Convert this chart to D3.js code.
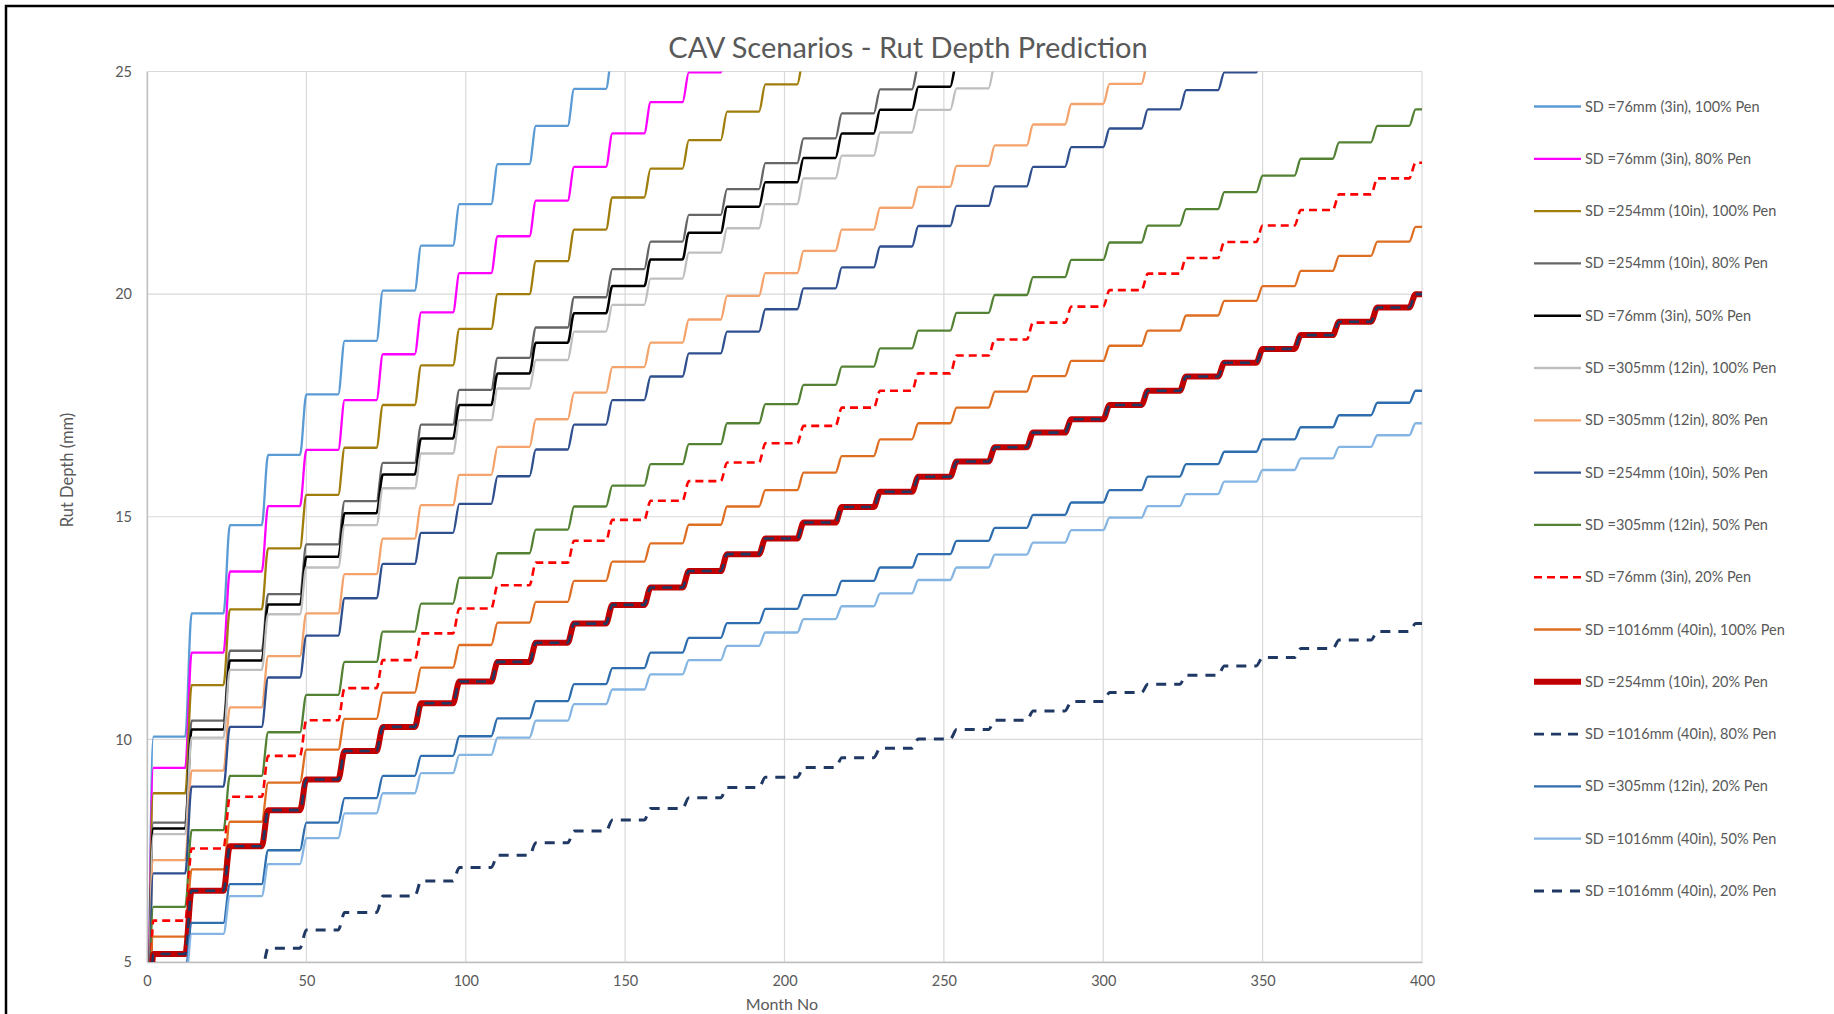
<!DOCTYPE html>
<html>
<head>
<meta charset="utf-8">
<script src="https://cdn.jsdelivr.net/npm/d3@7"></script>
<style>
  body { margin: 0; background: #fff; }
  svg { display: block; font-family: Lato, "Open Sans", sans-serif; }
</style>
</head>
<body>
<div id="chart"></div>
<script>

// yearly rut depth levels (mm), one value per 12-month step
var sd76_pen100   = [10.06, 12.83, 14.81, 16.39, 17.75, 18.95, 20.08, 21.09, 22.02, 22.92, 23.78, 24.61, 25.4]
var sd76_pen80    = [9.36, 11.95, 13.77, 15.24, 16.50, 17.62, 18.65, 19.59, 20.47, 21.30, 22.10, 22.86, 23.61, 24.31, 24.98, 25.6]
var sd254_pen100  = [8.79, 11.22, 12.92, 14.29, 15.49, 16.55, 17.51, 18.40, 19.22, 20.00, 20.74, 21.45, 22.17, 22.82, 23.46, 24.10, 24.71, 25.3]
var sd254_pen80   = [8.13, 10.42, 11.99, 13.26, 14.38, 15.35, 16.21, 17.07, 17.85, 18.57, 19.25, 19.93, 20.56, 21.18, 21.78, 22.36, 22.94, 23.50, 24.06, 24.60, 25.12]
var sd76_pen50    = [8.00, 10.22, 11.77, 13.03, 14.10, 15.08, 15.95, 16.76, 17.51, 18.22, 18.91, 19.57, 20.18, 20.78, 21.38, 21.96, 22.51, 23.06, 23.61, 24.14, 24.66, 25.2]
var sd305_pen100  = [7.87, 10.04, 11.56, 12.81, 13.86, 14.81, 15.64, 16.42, 17.17, 17.88, 18.52, 19.16, 19.76, 20.35, 20.93, 21.48, 22.02, 22.60, 23.11, 23.63, 24.14, 24.62, 25.15]
var sd305_pen80   = [7.29, 9.30, 10.72, 11.87, 12.83, 13.71, 14.51, 15.26, 15.94, 16.57, 17.19, 17.79, 18.36, 18.91, 19.43, 19.96, 20.47, 20.97, 21.45, 21.94, 22.41, 22.88, 23.34, 23.81, 24.27, 24.72, 25.2]
var sd254_pen50   = [6.99, 8.94, 10.28, 11.39, 12.33, 13.17, 13.94, 14.64, 15.29, 15.91, 16.51, 17.07, 17.62, 18.15, 18.67, 19.16, 19.66, 20.13, 20.60, 21.07, 21.53, 21.98, 22.42, 22.86, 23.30, 23.72, 24.15, 24.58, 24.98, 25.4]
var sd305_pen50   = [6.24, 7.96, 9.18, 10.16, 11.00, 11.74, 12.42, 13.05, 13.63, 14.18, 14.71, 15.23, 15.70, 16.18, 16.63, 17.10, 17.53, 17.96, 18.37, 18.78, 19.18, 19.58, 19.98, 20.38, 20.77, 21.16, 21.54, 21.91, 22.29, 22.66, 23.04, 23.41, 23.78, 24.15]
var sd76_pen20    = [5.93, 7.55, 8.71, 9.63, 10.43, 11.15, 11.78, 12.38, 12.94, 13.46, 13.97, 14.46, 14.93, 15.36, 15.80, 16.22, 16.65, 17.04, 17.45, 17.83, 18.22, 18.62, 18.98, 19.36, 19.72, 20.09, 20.46, 20.81, 21.17, 21.54, 21.89, 22.24, 22.60, 22.95]
var sd1016_pen100 = [5.57, 7.08, 8.15, 9.03, 9.77, 10.46, 11.05, 11.61, 12.12, 12.62, 13.09, 13.56, 13.99, 14.40, 14.82, 15.23, 15.60, 15.99, 16.36, 16.74, 17.10, 17.45, 17.81, 18.16, 18.50, 18.84, 19.18, 19.52, 19.85, 20.18, 20.52, 20.86, 21.18, 21.51]
var sd254_pen20   = [5.18, 6.60, 7.60, 8.41, 9.10, 9.74, 10.28, 10.81, 11.30, 11.74, 12.17, 12.60, 13.02, 13.41, 13.78, 14.16, 14.51, 14.87, 15.22, 15.56, 15.90, 16.24, 16.56, 16.89, 17.19, 17.51, 17.83, 18.15, 18.46, 18.77, 19.08, 19.38, 19.70, 20.00]
var sd1016_pen80  = [5.18, 6.60, 7.60, 8.41, 9.10, 9.74, 10.28, 10.81, 11.30, 11.74, 12.17, 12.60, 13.02, 13.41, 13.78, 14.16, 14.51, 14.87, 15.22, 15.56, 15.90, 16.24, 16.56, 16.89, 17.19, 17.51, 17.83, 18.15, 18.46, 18.77, 19.08, 19.38, 19.70, 20.00]
var sd305_pen20   = [4.75, 5.88, 6.75, 7.51, 8.13, 8.68, 9.18, 9.63, 10.07, 10.47, 10.86, 11.24, 11.60, 11.95, 12.28, 12.61, 12.93, 13.24, 13.56, 13.86, 14.16, 14.46, 14.75, 15.04, 15.32, 15.60, 15.90, 16.18, 16.46, 16.74, 17.01, 17.28, 17.56, 17.83]
var sd1016_pen50  = [4.50, 5.63, 6.48, 7.20, 7.78, 8.34, 8.79, 9.24, 9.65, 10.04, 10.42, 10.79, 11.12, 11.46, 11.78, 12.10, 12.40, 12.70, 12.99, 13.28, 13.58, 13.86, 14.15, 14.42, 14.70, 14.98, 15.24, 15.51, 15.79, 16.05, 16.31, 16.57, 16.83, 17.10]
var sd1016_pen20  = [3.40, 4.20, 4.80, 5.31, 5.72, 6.11, 6.48, 6.82, 7.12, 7.40, 7.68, 7.94, 8.19, 8.45, 8.69, 8.92, 9.15, 9.37, 9.59, 9.80, 10.01, 10.22, 10.43, 10.64, 10.85, 11.05, 11.24, 11.44, 11.65, 11.84, 12.04, 12.23, 12.42, 12.60]

// depth at month 0 (below the visible axis)
var initialDepth = 0

var seriesNames = [
    "SD =76mm (3in), 100% Pen", "SD =76mm (3in), 80% Pen", "SD =254mm (10in), 100% Pen",
    "SD =254mm (10in), 80% Pen", "SD =76mm (3in), 50% Pen", "SD =305mm (12in), 100% Pen",
    "SD =305mm (12in), 80% Pen", "SD =254mm (10in), 50% Pen", "SD =305mm (12in), 50% Pen",
    "SD =76mm (3in), 20% Pen", "SD =1016mm (40in), 100% Pen", "SD =254mm (10in), 20% Pen",
    "SD =1016mm (40in), 80% Pen", "SD =305mm (12in), 20% Pen", "SD =1016mm (40in), 50% Pen",
    "SD =1016mm (40in), 20% Pen"
]
var seriesLevels = [sd76_pen100, sd76_pen80, sd254_pen100, sd254_pen80, sd76_pen50, sd305_pen100,
    sd305_pen80, sd254_pen50, sd305_pen50, sd76_pen20, sd1016_pen100, sd254_pen20,
    sd1016_pen80, sd305_pen20, sd1016_pen50, sd1016_pen20]

var monthTicks = [0, 50, 100, 150, 200, 250, 300, 350, 400]
var depthTicks = [5, 10, 15, 20, 25]

// line styles, same order as the series
var styles = [
    {color: "#5B9BD5", width: 2.3},
    {color: "#FF00FF", width: 2.3},
    {color: "#A07D0C", width: 2.3},
    {color: "#666666", width: 2.3},
    {color: "#000000", width: 2.5},
    {color: "#BFBFBF", width: 2.3},
    {color: "#F4A36C", width: 2.3},
    {color: "#2F4F8E", width: 2.3},
    {color: "#548235", width: 2.3},
    {color: "#FF0000", width: 2.6, dash: "8,5"},
    {color: "#DE6E22", width: 2.3},
    {color: "#C00000", width: 6},
    {color: "#1F3864", width: 2.6, dash: "10,7"},
    {color: "#2E6DAE", width: 2.3},
    {color: "#85B5E3", width: 2.3},
    {color: "#1F3864", width: 3, dash: "10,8"}
]

var W = 1834, H = 1014
var plot = {left: 147, right: 1422, top: 71.5, bottom: 962}
var yearLength = 12, riseMonths = 2, maxMonth = 400

var svg = d3.select("#chart")
    .append("svg")
    .attr("width", W)
    .attr("height", H)

svg.append("rect").attr("width", W).attr("height", H).attr("fill", "#fff")

// outer frame
svg.append("rect")
    .attr("x", 6).attr("y", 6)
    .attr("width", W + 20).attr("height", H + 20)
    .attr("fill", "none")
    .attr("stroke", "#000")
    .attr("stroke-width", 2.5)

var x = d3.scaleLinear().domain([0, 400]).range([plot.left, plot.right])
var y = d3.scaleLinear().domain([5, 25]).range([plot.bottom, plot.top])

// gridlines
svg.append("g")
    .selectAll("line")
    .data(depthTicks)
    .enter().append("line")
    .attr("x1", plot.left).attr("x2", plot.right)
    .attr("y1", function(d) { return y(d) }).attr("y2", function(d) { return y(d) })
    .attr("stroke", "#D9D9D9").attr("stroke-width", 1.2)

svg.append("g")
    .selectAll("line")
    .data(monthTicks)
    .enter().append("line")
    .attr("x1", function(d) { return x(d) }).attr("x2", function(d) { return x(d) })
    .attr("y1", plot.top).attr("y2", plot.bottom)
    .attr("stroke", "#D9D9D9").attr("stroke-width", 1.2)

// axes
var xAxis = svg.append("g")
    .attr("transform", "translate(0," + plot.bottom + ")")
    .call(d3.axisBottom(x).tickValues(monthTicks).tickSize(0).tickPadding(14))
xAxis.select(".domain").attr("stroke", "#BFBFBF").attr("stroke-width", 1.3)
xAxis.selectAll("text").attr("fill", "#595959").style("font-size", "14.5px").style("font-family", "Lato, sans-serif")

var yAxis = svg.append("g")
    .attr("transform", "translate(" + plot.left + ",0)")
    .call(d3.axisLeft(y).tickValues(depthTicks).tickSize(0).tickPadding(15))
yAxis.select(".domain").attr("stroke", "#BFBFBF").attr("stroke-width", 1.3)
yAxis.selectAll("text").attr("fill", "#595959").style("font-size", "14.5px").style("font-family", "Lato, sans-serif")

// clip lines to the plot area
svg.append("clipPath").attr("id", "clip")
    .append("rect")
    .attr("x", plot.left).attr("y", plot.top)
    .attr("width", plot.right - plot.left).attr("height", plot.bottom - plot.top)

// each yearly level is held flat, then rises over the first months of the next year
function stepPoints(levels) {
    var pts = [[0, initialDepth]]
    levels.forEach(function(v, k) {
        var a = k * yearLength + riseMonths
        if (a > maxMonth) return
        pts.push([a, v])
        pts.push([Math.min((k + 1) * yearLength, maxMonth), v])
    })
    return pts
}

var line = d3.line()
    .x(function(d) { return x(d[0]) })
    .y(function(d) { return y(d[1]) })
    .curve(d3.curveMonotoneX)

svg.append("g")
    .attr("clip-path", "url(#clip)")
    .selectAll("path")
    .data(seriesLevels)
    .enter().append("path")
    .attr("d", function(d) { return line(stepPoints(d)) })
    .attr("fill", "none")
    .attr("stroke", function(d, i) { return styles[i].color })
    .attr("stroke-width", function(d, i) { return styles[i].width })
    .attr("stroke-dasharray", function(d, i) { return styles[i].dash || null })
    .attr("stroke-linejoin", "round")

// title and axis titles
svg.append("text")
    .attr("x", 908).attr("y", 58)
    .attr("text-anchor", "middle")
    .attr("fill", "#595959")
    .style("font-size", "29px")
    .text("CAV Scenarios - Rut Depth Prediction")

svg.append("text")
    .attr("transform", "translate(73,470) rotate(-90)")
    .attr("text-anchor", "middle")
    .attr("fill", "#595959")
    .style("font-size", "16.5px")
    .text("Rut Depth (mm)")

svg.append("text")
    .attr("x", 782).attr("y", 1010)
    .attr("text-anchor", "middle")
    .attr("fill", "#595959")
    .style("font-size", "16px")
    .text("Month No")

// legend
var legend = svg.selectAll(".legend")
    .data(seriesNames)
    .enter().append("g")
    .attr("class", "legend")
    .attr("transform", function(d, i) { return "translate(1534," + (106.5 + i * 52.3) + ")" })

legend.append("line")
    .attr("x1", 0).attr("x2", 47)
    .attr("stroke", function(d, i) { return styles[i].color })
    .attr("stroke-width", function(d, i) { return styles[i].width })
    .attr("stroke-dasharray", function(d, i) { return styles[i].dash || null })

legend.append("text")
    .attr("x", 51)
    .attr("dy", ".35em")
    .attr("fill", "#595959")
    .style("font-size", "14.5px")
    .text(function(d) { return d })

</script>
</body>
</html>
